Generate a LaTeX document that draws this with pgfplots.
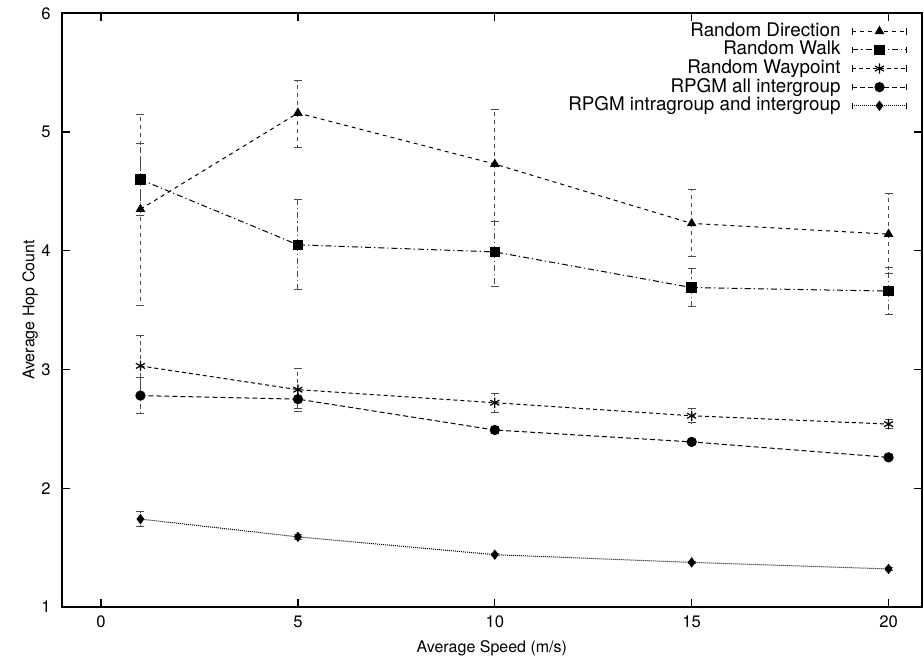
\documentclass[border=0pt]{standalone}
\usepackage{fontspec}
\setmainfont{TeX Gyre Heros}
\usepackage{pgfplots}
\usepackage{pgfplotstable}
\pgfplotsset{compat=1.18}

% x  y  ep  em
\pgfplotstableread{
x  y     ep    em
1  4.35  0.80  0.81
5  5.16  0.27  0.29
10 4.73  0.46  0.48
15 4.23  0.29  0.28
20 4.14  0.34  0.33
}\dirtab
\pgfplotstableread{
x  y     ep    em
1  4.60  0.30  0.30
5  4.05  0.38  0.38
10 3.99  0.26  0.29
15 3.69  0.16  0.16
20 3.66  0.20  0.20
}\walktab
\pgfplotstableread{
x  y     ep    em
1  3.03  0.26  0.26
5  2.83  0.18  0.18
10 2.72  0.08  0.08
15 2.61  0.06  0.06
20 2.54  0.04  0.04
}\waytab
\pgfplotstableread{
x  y     ep    em
1  2.78  0.15  0.15
5  2.75  0.08  0.08
10 2.49  0.03  0.03
15 2.39  0.02  0.02
20 2.26  0.02  0.02
}\intertab
\pgfplotstableread{
x  y     ep    em
1  1.74  0.06  0.06
5  1.59  0.02  0.02
10 1.44  0.01  0.01
15 1.375 0.01  0.01
20 1.32  0.01  0.01
}\intratab

\pgfplotsset{
  gnu/.style={
    black, line width=0.5pt, dash pattern=#1,
    error bars/y dir=both, error bars/y explicit,
    error bars/error bar style={line width=0.5pt, black!70, dash pattern=#1},
    error bars/error mark options={solid, black!70, line width=0.5pt, mark size=2pt, rotate=90},
  },
  caplegend/.style={
    legend image code/.code={
      \path[draw=none, fill=none] (0pt,0pt) -- (6pt,0pt);
      \draw[##1] (6pt,0pt) -- (33pt,0pt);
      \draw[##1, solid, mark=none, line width=0.4pt] (6pt,-1.6pt) -- (6pt,1.6pt) (33pt,-1.6pt) -- (33pt,1.6pt);
      \draw[##1, solid] plot coordinates {(19.5pt,0pt)};
    },
  },
}

\begin{document}
\begin{tikzpicture}
\begin{axis}[
  scale only axis,
  width=430pt, height=296.7pt,
  xmin=-1, xmax=20.85, ymin=1, ymax=6,
  xtick={0,5,10,15,20}, ytick={1,2,3,4,5,6},
  tick align=inside,
  major tick length=4pt,
  axis line style={black, line width=1pt},
  tick style={black, line width=0.6pt},
  font=\fontsize{8}{9}\selectfont,
  tick label style={font=\fontsize{8.3}{9}\selectfont},
  /pgf/number format/assume math mode=true,
  xlabel={Average Speed (m/s)},
  ylabel={Average Hop Count},
  every axis x label/.style={at={(axis description cs:0.5,-0.0696)}, anchor=center},
  every axis y label/.style={at={(axis description cs:-0.0368,0.5)}, anchor=center, rotate=90},
  yticklabel style={xshift=-2pt},
  xticklabel style={yshift=-1pt},
  legend plot pos=right,
  legend cell align=right,
  caplegend,
  legend style={draw=none, fill=none, at={(0.983,0.986)}, anchor=north east,
    font=\fontsize{9.4}{10}\selectfont, inner sep=0pt, row sep=0pt,
    nodes={inner xsep=0pt, inner ysep=0.2pt, text height=6.9pt, text depth=2pt}},
]
\addplot[gnu={on 2pt off 2pt},
  mark=triangle*, mark size=2.3pt, mark options={solid}]
  table[x=x, y=y, y error plus=ep, y error minus=em] {\dirtab};
\addlegendentry{Random Direction}
\addplot[gnu={on 3pt off 1.5pt on 0.6pt off 1.5pt},
  mark=square*, mark size=2.4pt, mark options={solid}]
  table[x=x, y=y, y error plus=ep, y error minus=em] {\walktab};
\addlegendentry{Random Walk}
\addplot[gnu={on 2pt off 1.5pt},
  mark=asterisk, mark size=2.6pt, mark options={solid, line width=0.6pt}]
  table[x=x, y=y, y error plus=ep, y error minus=em] {\waytab};
\addlegendentry{Random Waypoint}
\addplot[gnu={on 2.5pt off 1.5pt},
  mark=*, mark size=2.3pt, mark options={solid}]
  table[x=x, y=y, y error plus=ep, y error minus=em] {\intertab};
\addlegendentry{RPGM all intergroup}
\addplot[gnu={on 0.5pt off 0.5pt},
  mark=diamond*, mark size=2.2pt, mark options={solid}]
  table[x=x, y=y, y error plus=ep, y error minus=em] {\intratab};
\addlegendentry{RPGM intragroup and intergroup}
\coordinate (bl) at (rel axis cs:-0.0717,-0.1033);
\coordinate (tr) at (rel axis cs:1.0023,1.0224);
\end{axis}
\pgfresetboundingbox
\path[use as bounding box] (bl) rectangle (tr);
\end{tikzpicture}
\end{document}
